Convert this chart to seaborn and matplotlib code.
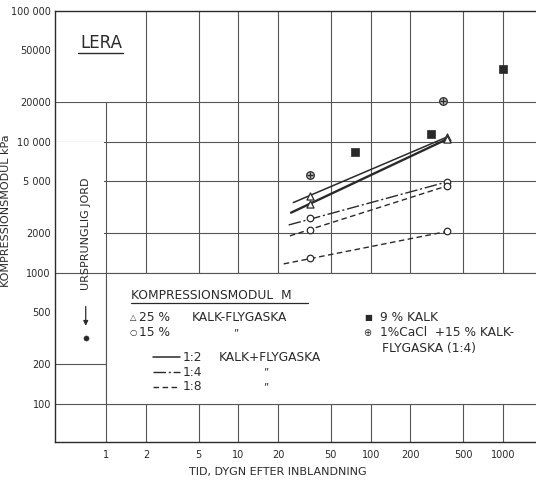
import numpy as np
import pandas as pd
import matplotlib
matplotlib.use("Agg")
import matplotlib.pyplot as plt
from matplotlib.patches import Rectangle
import seaborn as sns

# axis ticks
x_ticks = [1, 2, 5, 10, 20, 50, 100, 200, 500, 1000]
y_ticks = [100, 200, 500, 1000, 2000, 5000, 10000, 20000, 50000, 100000]
y_tick_labels = ["100", "200", "500", "1000", "2000", "5 000", "10 000", "20000", "50000", "100 000"]
y_grid = [100, 200, 1000, 2000, 5000, 10000, 20000]

# fitted lines (days, kPa)
l12a_days = [26, 378]
l12a_M = [3440, 10900]
l12b_days = [25, 378]
l12b_M = [2880, 10500]
l14_days = [24, 378]
l14_M = [2320, 4950]
l18a_days = [24.5, 378]
l18a_M = [1915, 4610]
l18b_days = [22, 378]
l18b_M = [1170, 2070]

# measured points
tri_days = [35, 35, 378, 378]
tri_M = [3870, 3370, 10900, 10500]
circ_days = [35, 35, 35, 378, 378, 378]
circ_M = [2620, 2130, 1295, 4950, 4610, 2070]
kalk_days = [76, 284, 1000]
kalk_M = [8430, 11500, 36000]
cacl_days = [35, 352]
cacl_M = [5570, 20560]
orig_days = [0.70]
orig_M = [320]

sns.set_style("white")
plt.rcParams['font.family'] = ['DejaVu Sans']
ink = "#2a2a2a"
dash_14 = (0, (9, 2, 1.5, 2))
dash_18 = (0, (4, 2.5))

fig = plt.figure(figsize=(5.36, 4.84), dpi=100)
ax = fig.add_axes([55 / 536, 1 - 442 / 484, 1 - 55 / 536, 431 / 484])
ax.set_xscale("log")
ax.set_yscale("log")
ax.set_xlim(0.41, 1780)
ax.set_ylim(51, 100000)

# grid drawn by hand (the original sheet only has some of the lines)
for xv in x_ticks:
    ax.axvline(xv, color="#555555", lw=0.8, zorder=1)
for yv in y_grid:
    ax.axhline(yv, color="#555555", lw=0.8, zorder=1)

# blank areas of the sheet
ax.add_patch(Rectangle((0.3, 20000), 1.04 - 0.3, 100000, color="white", zorder=1.5, lw=0))
ax.add_patch(Rectangle((0.3, 1010), 0.97 - 0.3, 9900 - 1010, color="white", zorder=1.5, lw=0))
ax.add_patch(Rectangle((1, 100), 5000, 900, facecolor="white", edgecolor="#555555", lw=0.8, zorder=1.5))

# lines
sns.lineplot(x=l12a_days, y=l12a_M, ax=ax, color=ink, lw=1.1, zorder=3)
sns.lineplot(x=l12b_days, y=l12b_M, ax=ax, color=ink, lw=1.7, zorder=3)
sns.lineplot(x=l14_days, y=l14_M, ax=ax, color=ink, lw=1.0, ls=dash_14, zorder=3)
sns.lineplot(x=l18a_days, y=l18a_M, ax=ax, color=ink, lw=1.0, ls=dash_18, zorder=3)
sns.lineplot(x=l18b_days, y=l18b_M, ax=ax, color=ink, lw=1.0, ls=dash_18, zorder=3)

# markers
sns.scatterplot(x=tri_days, y=tri_M, ax=ax, marker="^", s=26, color="white", edgecolor=ink, linewidth=0.9, zorder=4)
sns.scatterplot(x=circ_days, y=circ_M, ax=ax, marker="o", s=22, color="white", edgecolor=ink, linewidth=0.9, zorder=4)
sns.scatterplot(x=kalk_days, y=kalk_M, ax=ax, marker="s", s=26, color=ink, edgecolor=ink, linewidth=0.5, zorder=4)
sns.scatterplot(x=cacl_days, y=cacl_M, ax=ax, marker="o", s=30, color="#bdbdbd", edgecolor=ink, linewidth=0.9, zorder=4)
sns.scatterplot(x=cacl_days, y=cacl_M, ax=ax, marker="+", s=22, color=ink, linewidth=0.9, zorder=5)
sns.scatterplot(x=orig_days, y=orig_M, ax=ax, marker="o", s=14, color=ink, edgecolor=ink, zorder=4)

# original soil label
ax.text(0.70, 1990, "URSPRUNGLIG JORD", rotation=90, ha="center", va="center", fontsize=8, color=ink, zorder=5)
ax.annotate("", xy=(0.70, 375), xytext=(0.70, 580),
            arrowprops=dict(arrowstyle="-|>", color=ink, lw=0.9, mutation_scale=7), zorder=5)

# sheet title
ax.text(0.052, 0.926, "LERA", transform=ax.transAxes, fontsize=12, color=ink, ha="left", va="center", zorder=5)
ax.plot([0.048, 0.141], [0.9026, 0.9026], transform=ax.transAxes, color=ink, lw=1.0, zorder=5)

# legend block
fs = 8.8
def put(x, y, s, size=fs, ha="left"):
    ax.text(x, y, s, transform=ax.transAxes, fontsize=size, color=ink, ha=ha, va="center", zorder=5)

put(0.158, 0.341, "KOMPRESSIONSMODUL  M")
ax.plot([0.158, 0.526], [0.3225, 0.3225], transform=ax.transAxes, color=ink, lw=0.9, zorder=5)

put(0.162, 0.288, "\u25b3", size=6, ha="center")
put(0.175, 0.288, "25 %")
put(0.285, 0.288, "KALK-FLYGASKA")
put(0.162, 0.253, "\u25cb", size=6, ha="center")
put(0.175, 0.253, "15 %")
put(0.370, 0.253, "\u201d", size=7)

ax.plot([0.204, 0.260], [0.197, 0.197], transform=ax.transAxes, color=ink, lw=1.1, zorder=5)
ax.plot([0.204, 0.260], [0.162, 0.162], transform=ax.transAxes, color=ink, lw=1.0, ls=dash_14, zorder=5)
ax.plot([0.204, 0.260], [0.128, 0.128], transform=ax.transAxes, color=ink, lw=1.0, ls=dash_18, zorder=5)
put(0.266, 0.197, "1:2")
put(0.341, 0.197, "KALK+FLYGASKA")
put(0.266, 0.162, "1:4")
put(0.432, 0.162, "\u201d", size=7)
put(0.266, 0.128, "1:8")
put(0.432, 0.128, "\u201d", size=7)

put(0.651, 0.288, "\u25a0", size=6, ha="center")
put(0.676, 0.288, "9 % KALK")
put(0.649, 0.253, "\u2295", size=7, ha="center")
put(0.676, 0.253, "1%CaCl  +15 % KALK-")
put(0.680, 0.218, "FLYGASKA (1:4)")

# axes styling
ax.set_xticks(x_ticks)
ax.set_xticklabels([str(v) for v in x_ticks])
ax.set_yticks(y_ticks)
ax.set_yticklabels(y_tick_labels)
ax.minorticks_off()
ax.tick_params(axis="x", length=0, pad=6, labelsize=7, colors=ink)
ax.tick_params(axis="y", direction="in", length=13, width=0.8, pad=3, labelsize=7, colors=ink)
ax.spines["right"].set_visible(False)
for s in ["left", "bottom", "top"]:
    ax.spines[s].set_color(ink)
    ax.spines[s].set_linewidth(1.0)

ax.set_xlabel("TID, DYGN EFTER INBLANDNING", fontsize=8, color=ink)
ax.xaxis.set_label_coords(0.4636, -0.058)
ax.set_ylabel("KOMPRESSIONSMODUL kPa", fontsize=8, color=ink)
ax.yaxis.set_label_coords(-0.0915, 0.536)

fig.savefig("out.png", dpi=100)
